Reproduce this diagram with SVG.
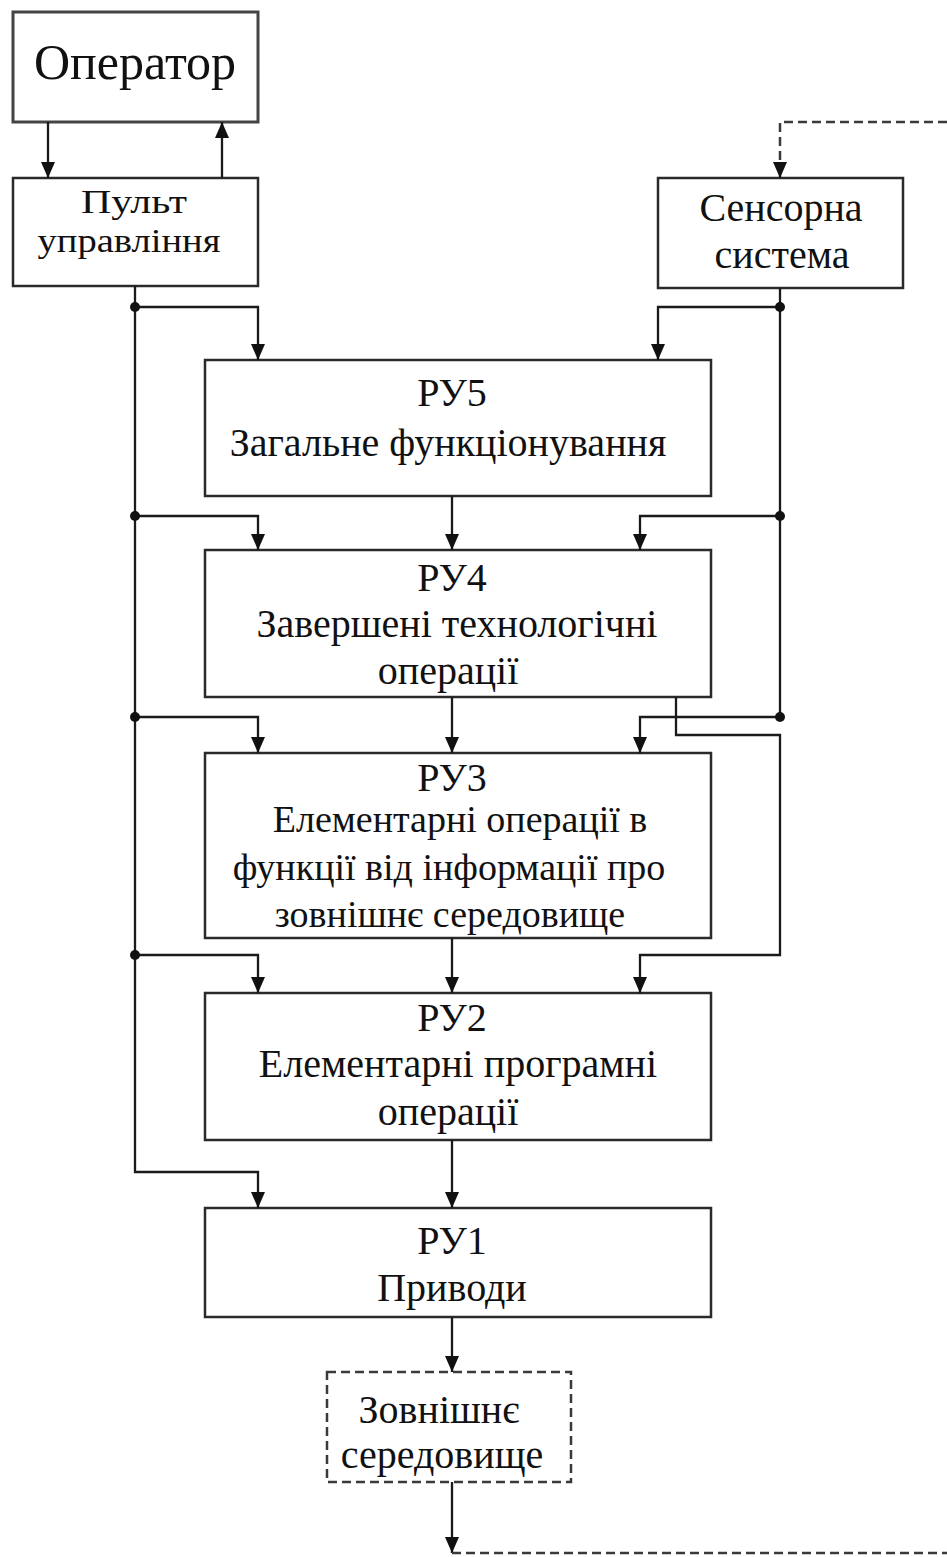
<svg xmlns="http://www.w3.org/2000/svg" width="947" height="1557" viewBox="0 0 947 1557">
<style>
.box{fill:#fff;stroke:#2a2a2a;stroke-width:2.5}
.dbox{fill:#fff;stroke:#3a3a3a;stroke-width:2.5;stroke-dasharray:9 5}
.t{font-family:"Liberation Serif","Times New Roman",serif;font-size:40px;fill:#111;text-anchor:middle}
.big{font-size:50px}
.sm{font-size:34px}
.ln{fill:none;stroke:#1a1a1a;stroke-width:2.3}
.dl{fill:none;stroke:#3a3a3a;stroke-width:2.5;stroke-dasharray:9 5}
.dot{fill:#111}
</style>
<defs>
<marker id="ah" markerUnits="userSpaceOnUse" markerWidth="16" markerHeight="14" viewBox="0 0 16 14" refX="16" refY="7" orient="auto">
<path d="M0,0 L16,7 L0,14 z" fill="#111"/>
</marker>
</defs>
<rect width="947" height="1557" fill="#fff"/>
<g id="operator"><rect class="box" x="13" y="12" width="245" height="110" style="stroke-width:3;stroke:#444"/><text class="t big" x="135" y="79">Оператор</text></g>
<g id="pult"><rect class="box" x="13" y="178" width="245" height="108"/><text class="t sm" x="134" y="213" textLength="106" lengthAdjust="spacingAndGlyphs">Пульт</text><text class="t sm" x="129" y="252" textLength="183" lengthAdjust="spacingAndGlyphs">управління</text></g>
<g id="sensor"><rect class="box" x="658" y="178" width="245" height="110"/><text class="t" x="781" y="221">Сенсорна</text><text class="t" x="782" y="268">система</text></g>
<g id="ru5"><rect class="box" x="205" y="360" width="506" height="136"/><text class="t" x="452" y="406">РУ5</text><text class="t" x="448" y="456">Загальне функціонування</text></g>
<g id="ru4"><rect class="box" x="205" y="550" width="506" height="147"/><text class="t" x="452" y="591">РУ4</text><text class="t" x="457" y="637">Завершені технологічні</text><text class="t" x="448" y="684">операції</text></g>
<g id="ru3"><rect class="box" x="205" y="753" width="506" height="185"/><text class="t" x="452" y="791">РУ3</text><text class="t" x="460" y="832" style="font-size:38px">Елементарні операції в</text><text class="t" x="449" y="880" style="font-size:38px">функції від інформації про</text><text class="t" x="450" y="927" style="font-size:38px">зовнішнє середовище</text></g>
<g id="ru2"><rect class="box" x="205" y="993" width="506" height="147"/><text class="t" x="452" y="1031">РУ2</text><text class="t" x="458" y="1077">Елементарні програмні</text><text class="t" x="448" y="1125">операції</text></g>
<g id="ru1"><rect class="box" x="205" y="1208" width="506" height="109"/><text class="t" x="452" y="1254">РУ1</text><text class="t" x="452" y="1301">Приводи</text></g>
<g id="env"><rect class="dbox" x="327" y="1372" width="244" height="110"/><text class="t" x="439" y="1423">Зовнішнє</text><text class="t" x="442" y="1468">середовище</text></g>
<g id="connectors">
<path class="ln" d="M48,122 V178" marker-end="url(#ah)"/>
<path class="ln" d="M222,178 V122" marker-end="url(#ah)"/>
<path class="ln" d="M135,286 V1172 H258 V1208" marker-end="url(#ah)"/>
<path class="ln" d="M135,307 H258 V360" marker-end="url(#ah)"/>
<path class="ln" d="M135,516 H258 V550" marker-end="url(#ah)"/>
<path class="ln" d="M135,717 H258 V753" marker-end="url(#ah)"/>
<path class="ln" d="M135,955 H258 V993" marker-end="url(#ah)"/>
<path class="ln" d="M780,288 V717"/>
<path class="ln" d="M780,307 H658 V360" marker-end="url(#ah)"/>
<path class="ln" d="M780,516 H640 V550" marker-end="url(#ah)"/>
<path class="ln" d="M780,717 H640 V753" marker-end="url(#ah)"/>
<path class="ln" d="M676,697 V735 H780 V955 H640 V993" marker-end="url(#ah)"/>
<path class="ln" d="M452,496 V550" marker-end="url(#ah)"/>
<path class="ln" d="M452,697 V753" marker-end="url(#ah)"/>
<path class="ln" d="M452,938 V993" marker-end="url(#ah)"/>
<path class="ln" d="M452,1140 V1208" marker-end="url(#ah)"/>
<path class="ln" d="M452,1317 V1372" marker-end="url(#ah)"/>
<path class="ln" d="M452,1482 V1553" marker-end="url(#ah)"/>
<path class="dl" d="M452,1553 H947"/>
<path class="dl" d="M947,122 H780 V162"/>
<path class="ln" d="M780,162 V178" marker-end="url(#ah)"/>
<circle class="dot" cx="135" cy="307" r="5"/>
<circle class="dot" cx="135" cy="516" r="5"/>
<circle class="dot" cx="135" cy="717" r="5"/>
<circle class="dot" cx="135" cy="955" r="5"/>
<circle class="dot" cx="780" cy="307" r="5"/>
<circle class="dot" cx="780" cy="516" r="5"/>
<circle class="dot" cx="780" cy="717" r="5"/>
</g>
</svg>
